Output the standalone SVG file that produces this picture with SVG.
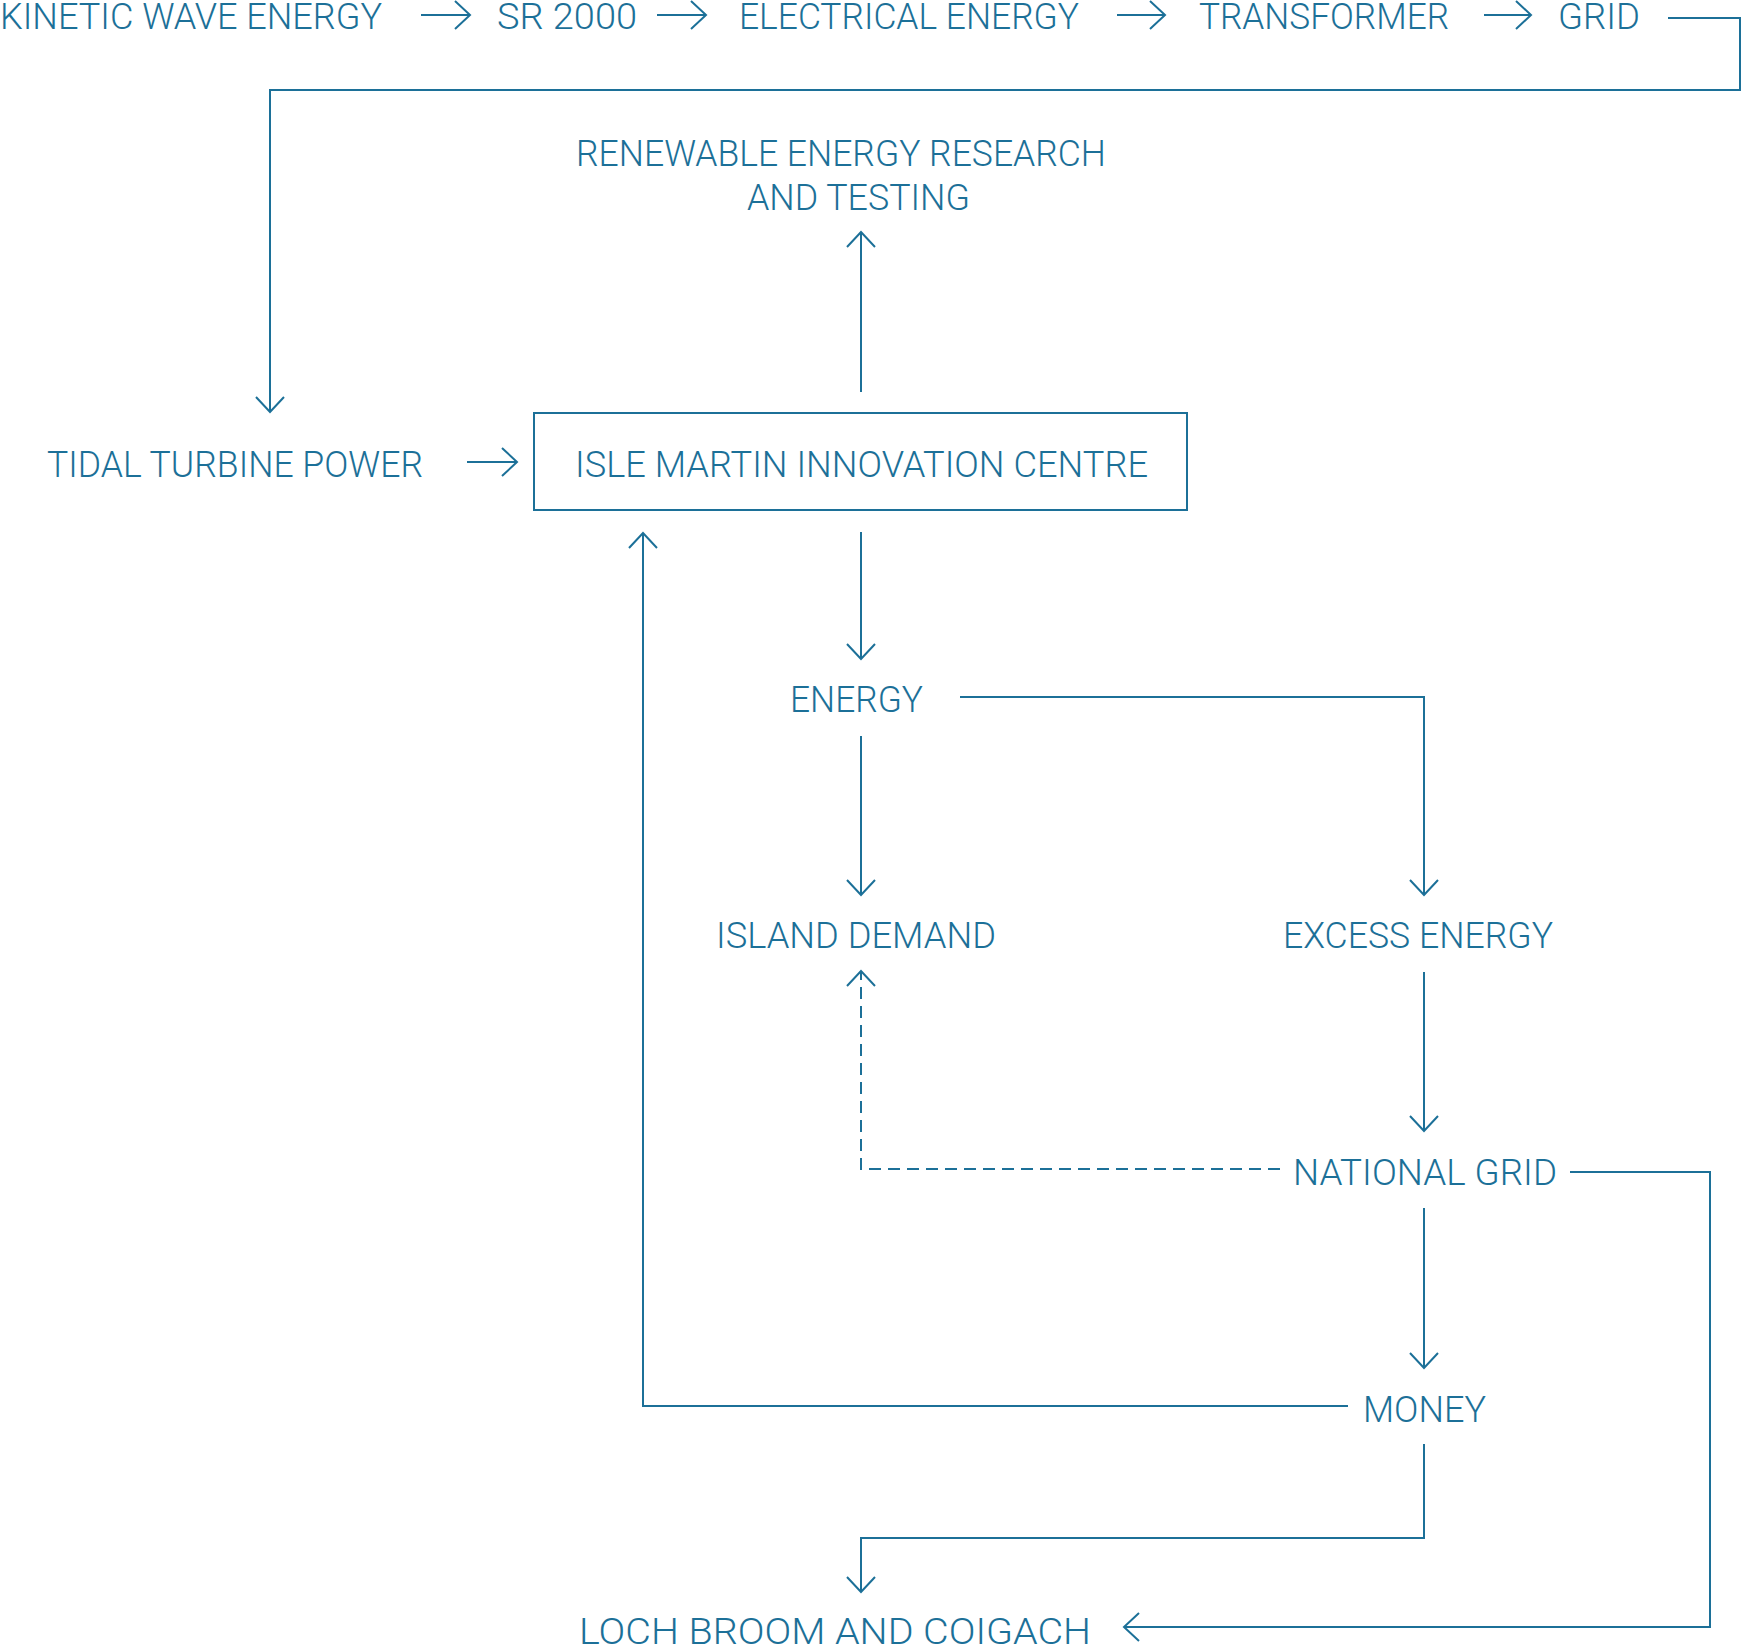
<svg xmlns="http://www.w3.org/2000/svg" width="1742" height="1644" viewBox="0 0 1742 1644">
<defs>
<style>
.t{font-family:Roboto,"Open Sans","Liberation Sans",sans-serif;font-weight:300;font-size:37px;fill:#1c7098}
.c{fill:none;stroke:#1c7098;stroke-width:2;marker-end:url(#ah)}
.d{stroke-dasharray:12 7}
.box{fill:none;stroke:#1c7098;stroke-width:2}
</style>
<marker id="ah" markerUnits="userSpaceOnUse" viewBox="-17 -16 19 32" refX="0" refY="0" markerWidth="19" markerHeight="32" orient="auto" overflow="visible">
<path d="M-15,-14 L0,0 L-15,14" fill="none" stroke="#1c7098" stroke-width="2" stroke-dasharray="none"/>
</marker>
</defs>
<rect width="1742" height="1644" fill="#ffffff"/>
<g id="connectors">
<path class="c" d="M421,15 H470"/>
<path class="c" d="M657,15 H706"/>
<path class="c" d="M1117,15 H1165"/>
<path class="c" d="M1484,15 H1531"/>
<path class="c" d="M1668,18 H1740 V90 H270 V412"/>
<path class="c" d="M467,462 H517"/>
<path class="c" d="M861,392 V232"/>
<path class="c" d="M861,532 V659"/>
<path class="c" d="M861,736 V895"/>
<path class="c" d="M960,697 H1424 V895"/>
<path class="c" d="M1424,972 V1131"/>
<path class="c d" d="M1280,1169 H861 V971"/>
<path class="c" d="M1570,1172 H1710 V1627 H1124"/>
<path class="c" d="M1424,1208 V1368"/>
<path class="c" d="M1348,1406 H643 V533"/>
<path class="c" d="M1424,1444 V1538 H861 V1592"/>
</g>
<g id="kinetic"><text class="t" x="0" y="29" textLength="382" lengthAdjust="spacingAndGlyphs">KINETIC WAVE ENERGY</text></g>
<g id="sr2000"><text class="t" x="497" y="29" textLength="140" lengthAdjust="spacingAndGlyphs">SR 2000</text></g>
<g id="electrical"><text class="t" x="739" y="29" textLength="340" lengthAdjust="spacingAndGlyphs">ELECTRICAL ENERGY</text></g>
<g id="transformer"><text class="t" x="1199" y="29" textLength="250" lengthAdjust="spacingAndGlyphs">TRANSFORMER</text></g>
<g id="grid"><text class="t" x="1558" y="29" textLength="82" lengthAdjust="spacingAndGlyphs">GRID</text></g>
<g id="renewable">
<text class="t" x="576" y="166" textLength="530" lengthAdjust="spacingAndGlyphs">RENEWABLE ENERGY RESEARCH</text>
<text class="t" x="747" y="210" textLength="223" lengthAdjust="spacingAndGlyphs">AND TESTING</text>
</g>
<g id="tidal"><text class="t" x="47" y="477" textLength="376" lengthAdjust="spacingAndGlyphs">TIDAL TURBINE POWER</text></g>
<g id="centre">
<rect class="box" x="534" y="413" width="653" height="97"/>
<text class="t" x="575" y="477" textLength="573" lengthAdjust="spacingAndGlyphs">ISLE MARTIN INNOVATION CENTRE</text>
</g>
<g id="energy"><text class="t" x="790" y="712" textLength="133" lengthAdjust="spacingAndGlyphs">ENERGY</text></g>
<g id="island"><text class="t" x="716" y="948" textLength="280" lengthAdjust="spacingAndGlyphs">ISLAND DEMAND</text></g>
<g id="excess"><text class="t" x="1283" y="948" textLength="270" lengthAdjust="spacingAndGlyphs">EXCESS ENERGY</text></g>
<g id="national"><text class="t" x="1293" y="1185" textLength="264" lengthAdjust="spacingAndGlyphs">NATIONAL GRID</text></g>
<g id="money"><text class="t" x="1363" y="1422" textLength="123" lengthAdjust="spacingAndGlyphs">MONEY</text></g>
<g id="loch"><text class="t" x="579" y="1644" textLength="512" lengthAdjust="spacingAndGlyphs">LOCH BROOM AND COIGACH</text></g>
</svg>
